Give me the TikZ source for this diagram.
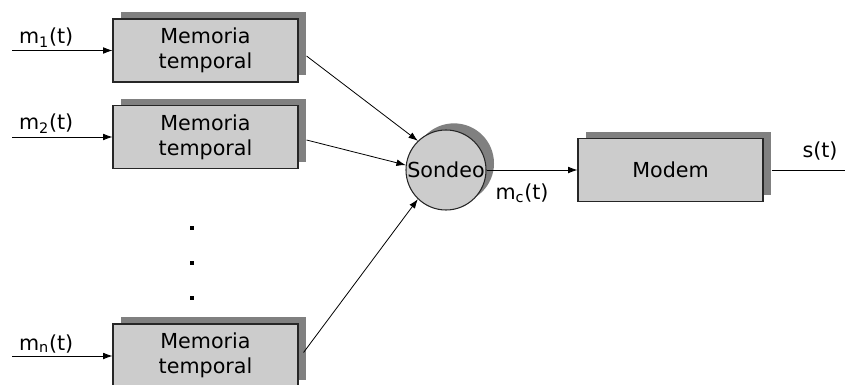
\documentclass[tikz,border=0pt]{standalone}
\usepackage{fontspec}
\setmainfont{DejaVu Sans}
\usetikzlibrary{arrows.meta,shadows,calc}

\begin{document}
\begin{tikzpicture}[x=0.75pt,y=0.75pt,yscale=-1,xscale=1,
    font=\fontsize{15.5}{19}\selectfont,
    blockshadow/.style={general shadow={fill=black!50,shadow xshift=6pt,shadow yshift=5pt}},
    memblock/.style={draw=black!85,line width=0.8pt,fill=black!20,blockshadow,
        minimum width=138.75pt,minimum height=47.25pt,inner sep=0pt,align=center},
    pollnode/.style={circle,draw=black!85,line width=0.8pt,fill=black!20,blockshadow,
        minimum size=60pt,inner sep=0pt},
    dotmark/.style={rectangle,fill=black,inner sep=0pt,minimum size=2.8pt},
    conn/.style={line width=0.6pt,-{Latex[length=7pt,width=5pt]}},
    wire/.style={line width=0.6pt}]
    \useasboundingbox (0,0) rectangle (845,385);
    \clip (0,0) rectangle (845,385);

    %Shape: Rectangle
    \node[memblock] (mem1) at (205.5,50.5) {Memoria\\temporal};
    %Shape: Rectangle
    \node[memblock] (mem2) at (205.5,137) {Memoria\\temporal};
    %Shape: Rectangle
    \node[memblock] (memn) at (205.5,355.5) {Memoria\\temporal};
    %Shape: Circle
    \node[pollnode] (sondeo) at (446,170) {Sondeo};
    %Shape: Rectangle
    \node[memblock] (modem) at (670.5,170) {Modem};

    % dots
    \node[dotmark] (dot1) at (192,228) {};
    \node[dotmark] (dot2) at (192,263) {};
    \node[dotmark] (dot3) at (192,298) {};

    %Straight Lines
    \coordinate (in1) at (12,50.5);
    \coordinate (in2) at (12,137);
    \coordinate (inn) at (12,356);
    \draw[conn] (in1) -- node[above,pos=0.34,inner sep=2pt] (lab1) {m\textsubscript{1}(t)} (mem1);
    \draw[conn] (in2) -- node[above,pos=0.34,inner sep=2pt] (lab2) {m\textsubscript{2}(t)} (mem2);
    \draw[conn] (inn) -- node[above,pos=0.34,inner sep=2pt] (labn) {m\textsubscript{n}(t)} (memn.west |- inn);

    %Straight Lines
    \draw[conn] ($(mem1.east)+(8,5.5)$) -- (sondeo.134);
    \draw[conn] ($(mem2.east)+(8,3)$) -- (sondeo.173);
    \draw[conn] ($(memn.east)+(5,-3)$) -- (sondeo.226);

    %Straight Lines
    \draw[conn] (sondeo) -- (modem);
    \coordinate (out) at (845,170);
    \draw[wire] ($(modem.east)+(8,0)$) -- (out);

    % Text Node
    \node (mc) at (522,193) {m\textsubscript{c}(t)};
    % Text Node
    \node (st) at (820,151) {s(t)};
\end{tikzpicture}
\end{document}
